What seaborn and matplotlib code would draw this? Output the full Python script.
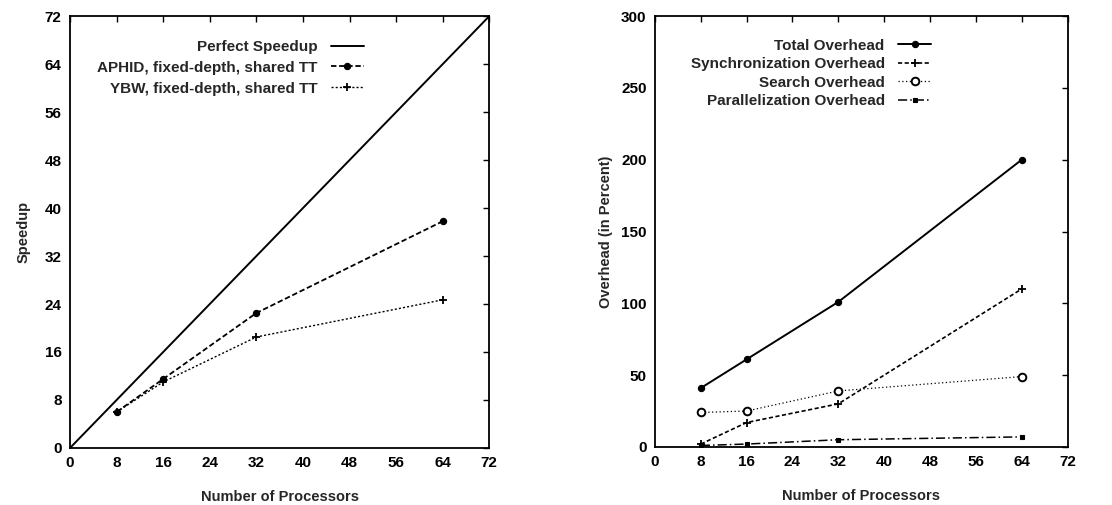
import seaborn as sns
import matplotlib.pyplot as plt
import pandas as pd

# data
procs = [8, 16, 32, 64]
perfect_x = [0, 72]
perfect_y = [0, 72]
aphid = [6.0, 11.5, 22.5, 37.8]
ybw = [6.0, 11.0, 18.5, 24.7]

total_ovh = [41, 61, 101, 200]
sync_ovh = [2, 17, 30, 110]
search_ovh = [24, 25, 39, 49]
par_ovh = [1, 2, 5, 7]

x_ticks = [0, 8, 16, 24, 32, 40, 48, 56, 64, 72]

sns.set_theme(style="white")
plt.rcParams['font.family'] = ['Liberation Sans', 'DejaVu Sans']
plt.rcParams['font.weight'] = 'bold'
plt.rcParams['axes.labelweight'] = 'bold'

fig = plt.figure(figsize=(11.12, 5.05), dpi=100)
ax1 = fig.add_axes([0.063, 0.113, 0.377, 0.855])
ax2 = fig.add_axes([0.589, 0.115, 0.371, 0.853])

mk = dict(markeredgecolor='black', markerfacecolor='black')

# left plot: speedup
sns.lineplot(x=perfect_x, y=perfect_y, ax=ax1, color='black', lw=1.4, label='Perfect Speedup')
sns.lineplot(x=procs, y=aphid, ax=ax1, color='black', lw=1.3, linestyle=(0, (3, 1.5)),
             marker='o', markersize=4.5, markeredgewidth=0.8, **mk,
             label='APHID, fixed-depth, shared TT')
sns.lineplot(x=procs, y=ybw, ax=ax1, color='black', lw=1.0, linestyle=(0, (1.5, 1.5)),
             marker='+', markersize=5.5, markeredgewidth=1.3, **mk,
             label='YBW, fixed-depth, shared TT')
ax1.set_xlim(0, 72)
ax1.set_ylim(0, 72)
ax1.set_xticks(x_ticks)
ax1.set_yticks(range(0, 73, 8))
ax1.set_xlabel('Number of Processors', fontsize=10.5, labelpad=14)
ax1.set_ylabel('Speedup', fontsize=10.5, labelpad=10)

# right plot: overhead
sns.lineplot(x=procs, y=total_ovh, ax=ax2, color='black', lw=1.4, marker='o', markersize=4.5,
             markeredgewidth=0.8, **mk, label='Total Overhead')
sns.lineplot(x=procs, y=sync_ovh, ax=ax2, color='black', lw=1.2, linestyle=(0, (2.5, 1.5)),
             marker='+', markersize=5.5, markeredgewidth=1.3, **mk,
             label='Synchronization Overhead')
sns.lineplot(x=procs, y=search_ovh, ax=ax2, color='black', lw=0.9, linestyle=(0, (1, 2)),
             marker='o', markersize=5.5, markerfacecolor='white', markeredgecolor='black',
             markeredgewidth=1.4, label='Search Overhead')
sns.lineplot(x=procs, y=par_ovh, ax=ax2, color='black', lw=1.1, linestyle=(0, (6, 2, 1, 2)),
             marker='s', markersize=3.5, markeredgewidth=0.8, **mk,
             label='Parallelization Overhead')
ax2.set_xlim(0, 72)
ax2.set_ylim(0, 300)
ax2.set_xticks(x_ticks)
ax2.set_yticks(range(0, 301, 50))
ax2.set_xlabel('Number of Processors', fontsize=10.5, labelpad=14)
ax2.set_ylabel('Overhead (in Percent)', fontsize=10.5, labelpad=6)

legend_pos = {ax1: (0.70, 0.945, 0.45), ax2: (0.668, 0.948, 0.3)}
for ax in (ax1, ax2):
    for s in ax.spines.values():
        s.set_color('black')
        s.set_linewidth(1.3)
    ax.tick_params(direction='in', length=4, width=1, top=True, right=True,
                   labelsize=11, colors='black', pad=6)
    bx, by, sp = legend_pos[ax]
    leg = ax.legend(loc='upper right', bbox_to_anchor=(bx, by), frameon=False,
                    fontsize=11, markerfirst=False, handlelength=2.1, labelspacing=sp,
                    borderaxespad=0, borderpad=0, handletextpad=0.9)

fig.savefig('out.png', dpi=100)
